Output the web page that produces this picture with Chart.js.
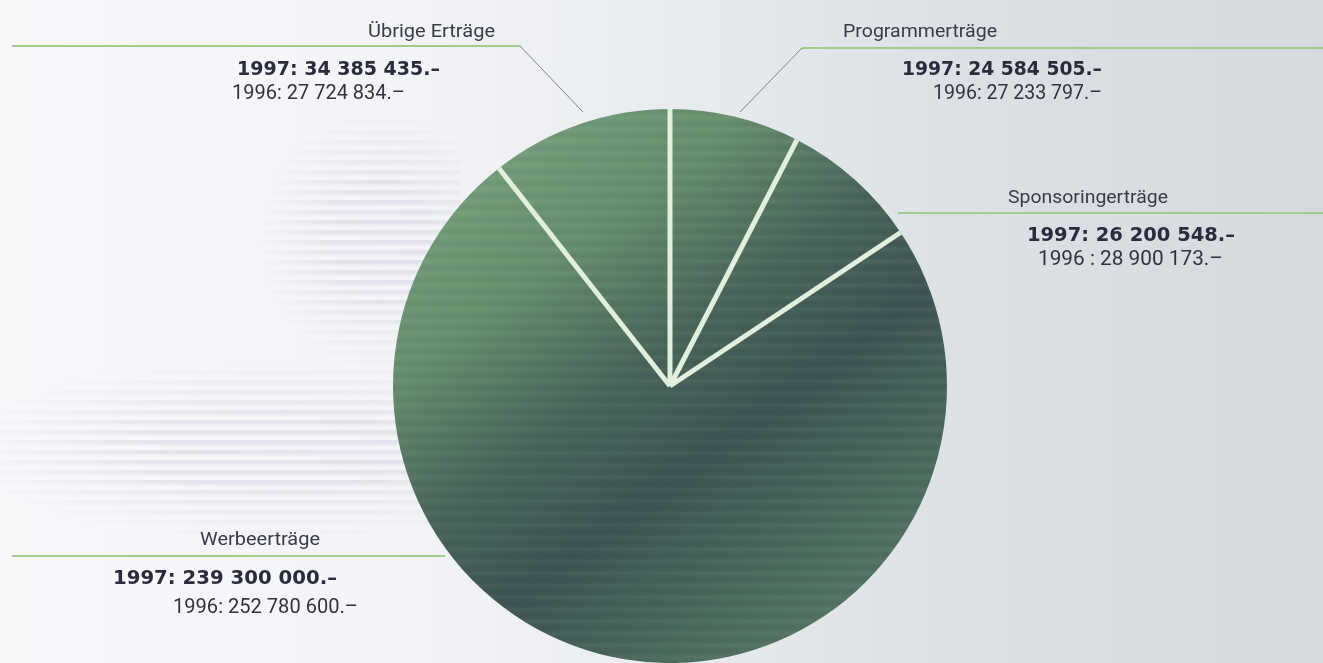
<!DOCTYPE html>
<html>
<head>
<meta charset="utf-8">
<script src="https://cdn.jsdelivr.net/npm/chart.js@4/dist/chart.umd.min.js"></script>
<style>
  html, body { margin: 0; padding: 0; }
  body {
    width: 1323px; height: 663px; overflow: hidden; position: relative;
    background: linear-gradient(90deg, #f8f8fb 0%, #f3f4f7 30%, #e8ebee 52%, #dce1e5 72%, #d4dade 100%);
  }
  .streaks {
    position: absolute;
    background: repeating-linear-gradient(180deg, rgba(208,208,224,0.45) 0 3px, rgba(208,208,224,0.15) 5px, rgba(255,255,255,0) 7px 10px);
    -webkit-mask-image: radial-gradient(ellipse at 60% 50%, rgba(0,0,0,1) 30%, rgba(0,0,0,0) 72%);
  }
  #s1 { left: -40px; top: 360px; width: 520px; height: 180px; }
  #s2 { left: 260px; top: 110px; width: 200px; height: 260px; }
  #wrap { position: absolute; left: 0; top: 0; width: 1323px; height: 663px; }
  svg { position: absolute; left: 0; top: 0; }
  .head { font-family: Roboto, "Noto Sans", sans-serif; font-size: 19px; fill: #3a3b48; }
  .y97 { font-family: "DejaVu Sans", sans-serif; font-weight: bold; font-size: 20px; fill: #2a2b3c; }
  .y96 { font-family: Roboto, "Noto Sans", sans-serif; font-size: 21px; fill: #32333f; }
</style>
</head>
<body>
<div class="streaks" id="s1"></div>
<div class="streaks" id="s2"></div>
<div id="wrap"><canvas id="pie" width="1323" height="663"></canvas></div>
<svg id="notes" width="1323" height="663"></svg>
<script>
// slices clockwise from 12 o'clock
const categories = ['Programmerträge', 'Sponsoringerträge', 'Werbeerträge', 'Übrige Erträge'];
const values1997 = [24584505, 26200548, 239300000, 34385435];
const values1996 = [27233797, 28900173, 252780600, 27724834];
const sep1996 = [': ', ' : ', ': ', ': '];

// label placement (layout only)
const notes = [
  { head: [843, 37, 154], line: [[740,112],[802,48],[1323,48]], y97: [902, 75, 200], y96: [933, 99, 169] },
  { head: [1008, 203, 160], line: [[898,213],[1323,213]], y97: [1027, 241, 208], y96: [1038, 265, 185] },
  { head: [200, 545, 120], line: [[12,556],[445,556]], y97: [113, 584, 224], y96: [173, 613, 185] },
  { head: [368, 37, 127], line: [[583,112],[520,46],[12,46]], y97: [237, 75, 203], y96: [232, 99, 173] }
];

function fmt(v) {
  return String(v).replace(/\B(?=(\d{3})+(?!\d))/g, ' ') + '.–';
}

const NS = 'http://www.w3.org/2000/svg';
const svg = document.getElementById('notes');
function add(tag, attrs, text) {
  const el = document.createElementNS(NS, tag);
  for (const k in attrs) el.setAttribute(k, attrs[k]);
  if (text) el.textContent = text;
  svg.appendChild(el);
  return el;
}

notes.forEach((n, i) => {
  const pts = n.line;
  for (let j = 0; j < pts.length - 1; j++) {
    const a = pts[j], b = pts[j + 1];
    const flat = a[1] === b[1];
    add('line', { x1: a[0], y1: a[1], x2: b[0], y2: b[1],
      stroke: flat ? '#a3cb8a' : '#7b8a80', 'stroke-width': flat ? 2 : 1 });
  }
  add('text', { x: n.head[0], y: n.head[1], class: 'head', textLength: n.head[2], lengthAdjust: 'spacingAndGlyphs' }, categories[i]);
  add('text', { x: n.y97[0], y: n.y97[1], class: 'y97', textLength: n.y97[2], lengthAdjust: 'spacingAndGlyphs' }, '1997: ' + fmt(values1997[i]));
  add('text', { x: n.y96[0], y: n.y96[1], class: 'y96', textLength: n.y96[2], lengthAdjust: 'spacingAndGlyphs' }, '1996' + sep1996[i] + fmt(values1996[i]));
});

// softly striped green texture for the pie, anchored to the canvas
let texture = null;
function pieFill(ctx) {
  const chart = ctx.chart;
  const area = chart.chartArea;
  if (!area) return '#4f6c5c';
  if (!texture) {
    const off = document.createElement('canvas');
    off.width = chart.width; off.height = chart.height;
    const o = off.getContext('2d');
    const cx = (area.left + area.right) / 2;
    const g = o.createLinearGradient(cx - 260, area.top, cx + 150, area.bottom);
    g.addColorStop(0, '#82ab88');
    g.addColorStop(0.3, '#68906f');
    g.addColorStop(0.5, '#4a655b');
    g.addColorStop(0.66, '#405556');
    g.addColorStop(0.85, '#4d6b5e');
    g.addColorStop(1, '#5a7a69');
    o.fillStyle = g;
    o.fillRect(0, 0, off.width, off.height);
    const dark = o.createLinearGradient(area.left, 0, area.right, 0);
    dark.addColorStop(0, 'rgba(35,50,55,0.04)');
    dark.addColorStop(1, 'rgba(35,50,55,0.12)');
    const light = o.createLinearGradient(area.left, 0, area.right, 0);
    light.addColorStop(0, 'rgba(140,180,145,0.05)');
    light.addColorStop(1, 'rgba(140,180,145,0.09)');
    o.filter = 'blur(1.2px)';
    for (let y = area.top; y < area.bottom; y += 12) {
      o.fillStyle = dark; o.fillRect(0, y, off.width, 5);
      o.fillStyle = light; o.fillRect(0, y + 7, off.width, 3);
    }
    o.filter = 'none';
    texture = chart.ctx.createPattern(off, 'no-repeat');
  }
  return texture;
}

const separators = {
  id: 'separators',
  afterDatasetsDraw(chart) {
    const c = chart.ctx;
    const arcs = chart.getDatasetMeta(0).data;
    c.save();
    c.strokeStyle = '#e1efdc';
    c.lineWidth = 5;
    arcs.forEach(a => {
      c.beginPath();
      c.moveTo(a.x, a.y);
      c.lineTo(a.x + Math.cos(a.startAngle) * a.outerRadius, a.y + Math.sin(a.startAngle) * a.outerRadius);
      c.stroke();
    });
    c.restore();
  }
};

new Chart(document.getElementById('pie'), {
  type: 'pie',
  data: {
    labels: categories,
    datasets: [{ data: values1997, backgroundColor: pieFill, borderWidth: 0 }]
  },
  options: {
    responsive: false,
    animation: false,
    layout: { padding: { top: 109, bottom: 0, left: 17, right: 0 } },
    plugins: { legend: { display: false }, tooltip: { enabled: false } }
  },
  plugins: [separators]
});
</script>
</body>
</html>
